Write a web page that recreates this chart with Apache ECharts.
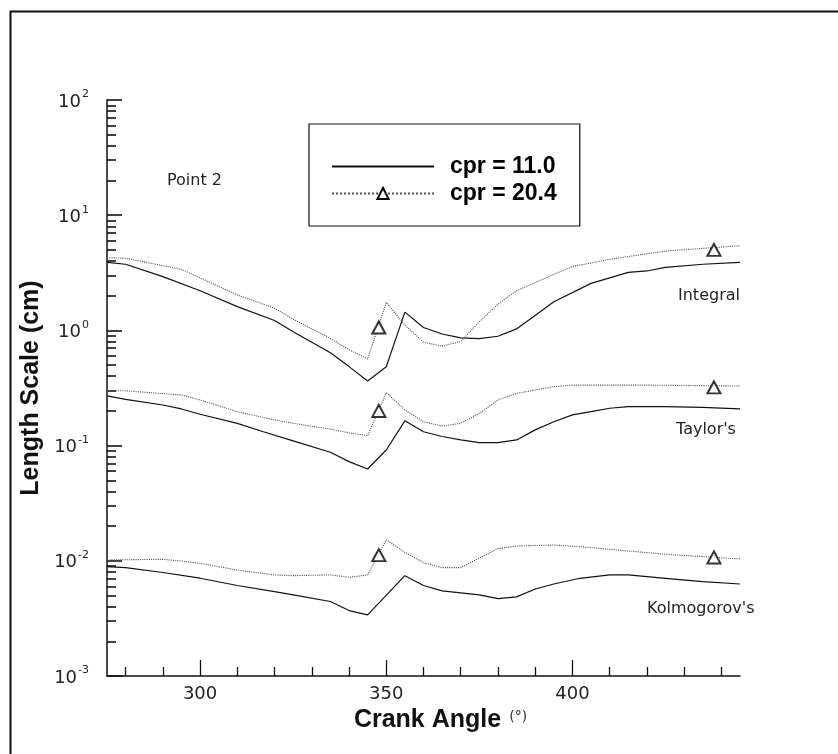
<!DOCTYPE html>
<html>
<head>
<meta charset="utf-8">
<script src="https://cdn.jsdelivr.net/npm/echarts@6/dist/echarts.min.js"></script>
<style>html,body{margin:0;padding:0;background:#fff}#c{width:838px;height:754px}</style>
</head>
<body>
<div id="c"></div>
<script>
// Integral length scale
const intAngle11 = [275,280,290,300,310,320,325,335,340,345,350,355,360,365,370,375,380,385,395,405,415,420,425,435,445];
const intVal11   = [3.90,3.75,2.93,2.21,1.61,1.22,0.975,0.64,0.485,0.364,0.484,1.44,1.06,0.93,0.86,0.85,0.89,1.03,1.77,2.56,3.19,3.28,3.53,3.75,3.90];
const intAngle20 = [275,280,295,310,320,325,335,340,345,350,355,360,365,370,375,380,385,390,395,400,410,425,445];
const intVal20   = [4.28,4.23,3.39,2.03,1.56,1.25,0.85,0.68,0.565,1.75,1.11,0.79,0.73,0.80,1.19,1.69,2.21,2.60,3.07,3.58,4.14,4.89,5.43];
// Taylor's length scale
const tayAngle11 = [275,280,290,295,300,310,317,325,335,340,345,350,355,360,365,370,375,380,385,390,395,400,405,410,415,425,435,445];
const tayVal11   = [0.270,0.252,0.225,0.208,0.187,0.156,0.132,0.110,0.0875,0.0726,0.0627,0.0916,0.164,0.132,0.120,0.112,0.106,0.106,0.112,0.137,0.161,0.185,0.197,0.211,0.218,0.218,0.215,0.208];
const tayAngle20 = [275,280,295,300,310,320,325,335,340,345,350,355,360,365,370,375,380,385,395,400,420,445];
const tayVal20   = [0.300,0.299,0.275,0.249,0.197,0.167,0.156,0.139,0.129,0.122,0.288,0.204,0.161,0.148,0.156,0.190,0.249,0.284,0.325,0.335,0.335,0.329];
// Kolmogorov's length scale
const kolAngle11 = [275,280,290,300,310,320,325,335,340,345,355,360,365,375,380,385,390,395,402,410,415,425,435,445];
const kolVal11   = [0.0089,0.00873,0.00791,0.00706,0.0061,0.00541,0.00506,0.00443,0.0037,0.00339,0.00743,0.0061,0.00548,0.00506,0.0047,0.00486,0.00569,0.00629,0.00705,0.00754,0.00754,0.00705,0.00659,0.00629];
const kolAngle20 = [275,290,295,300,310,320,325,335,340,345,350,355,360,365,370,380,385,395,402,415,425,435,445];
const kolVal20   = [0.01017,0.0103,0.00996,0.00951,0.00831,0.00754,0.00743,0.00754,0.00719,0.00754,0.01518,0.01186,0.00963,0.00873,0.00873,0.01277,0.01344,0.01371,0.01327,0.01217,0.0114,0.01087,0.01038];
// Triangle symbols drawn on cpr = 20.4 curves
const markAngle = [348,438,348,438,348,438];
const markVal   = [1.06,5.0,0.20,0.32,0.0112,0.0107];
// Axis ticks
const xLabelTicks = [300,350,400];
const xMinorTicks = [280,290,310,320,330,340,360,370,380,390,410,420,430,440];
const yMinorTicks = [];
[0.001,0.01,0.1,1,10].forEach(d => { for (let k = 2; k <= 9; k++) yMinorTicks.push(+(d*k).toPrecision(3)); });

const pairs = (xs, ys) => xs.map((x, i) => [x, ys[i]]);
const NAME11 = 'cpr = 11.0', NAME20 = 'cpr = 20.4';
const solid = {color:'#111', width:1.2, type:'solid'};
const dotted = {color:'#555', width:1.1, type:'dotted'};

function line11(xs, ys){ return {name:NAME11, type:'line', data:pairs(xs,ys), symbol:'none', lineStyle:solid, itemStyle:{color:'#111'}, silent:true, z:3}; }
function line20(xs, ys){ return {name:NAME20, type:'line', data:pairs(xs,ys), symbol:'emptyTriangle', symbolSize:[13,12], showSymbol:false, lineStyle:dotted, itemStyle:{color:'#000', borderColor:'#000', borderWidth:1.4}, silent:true, z:3}; }

const chart = echarts.init(document.getElementById('c'), null, {renderer:'canvas'});
chart.setOption({
  animation:false,
  backgroundColor:'#fff',
  grid:{left:107, top:100, right:98, bottom:78, containLabel:false},
  xAxis:[
    {type:'value', min:275, max:445, position:'bottom',
     axisLine:{show:true, onZero:false, lineStyle:{color:'#111', width:1.5}},
     axisTick:{show:true, inside:true, length:16, customValues:xLabelTicks, lineStyle:{color:'#111', width:1.3}},
     axisLabel:{show:true, customValues:xLabelTicks, margin:9, fontFamily:'DejaVu Sans', fontSize:18, color:'#222'},
     splitLine:{show:false},
     name:'{b|Crank Angle}{u|(°)}', nameLocation:'middle', nameGap:30,
     nameTextStyle:{rich:{
       b:{fontFamily:'Liberation Sans', fontWeight:'bold', fontSize:25, color:'#111', padding:[0,0,0,34]},
       u:{fontFamily:'DejaVu Sans', fontSize:14, color:'#333', padding:[0,0,6,8]}
     }}},
    {type:'value', min:275, max:445, position:'bottom',
     axisLine:{show:false},
     axisTick:{show:true, inside:true, length:9, customValues:xMinorTicks, lineStyle:{color:'#111', width:1.3}},
     axisLabel:{show:false}, splitLine:{show:false}}
  ],
  yAxis:[
    {type:'log', logBase:10, min:0.001, max:100, position:'left',
     axisLine:{show:true, onZero:false, lineStyle:{color:'#111', width:1.5}},
     axisTick:{show:true, inside:true, length:15, lineStyle:{color:'#111', width:1.6}},
     axisLabel:{show:true, margin:18,
       formatter: v => '{b|10}{s|' + Math.round(Math.log10(v)) + '}',
       rich:{
         b:{fontFamily:'DejaVu Sans', fontSize:18, color:'#222', lineHeight:22, verticalAlign:'bottom'},
         s:{fontFamily:'DejaVu Sans', fontSize:11, color:'#222', verticalAlign:'top', lineHeight:22, padding:[0,0,0,1]}
       }},
     splitLine:{show:false},
     name:'Length Scale (cm)', nameLocation:'middle', nameGap:57, nameRotate:90,
     nameTextStyle:{fontFamily:'Liberation Sans', fontWeight:'bold', fontSize:25, color:'#111'}},
    {type:'log', logBase:10, min:0.001, max:100, position:'left',
     axisLine:{show:false},
     axisTick:{show:true, inside:true, length:9, customValues:yMinorTicks, lineStyle:{color:'#111', width:1.6}},
     axisLabel:{show:false}, splitLine:{show:false}}
  ],
  legend:{
    data:[{name:NAME11, itemStyle:{opacity:0}}, NAME20], orient:'vertical', left:309, top:124,
    padding:[31,23,21,22], itemWidth:102, itemHeight:14, itemGap:4,
    backgroundColor:'#fff', borderColor:'#111', borderWidth:1.2, borderRadius:0,
    selectedMode:false,
    textStyle:{fontFamily:'Liberation Sans', fontWeight:'bold', fontSize:23, color:'#000', lineHeight:22, padding:[0,0,0,11]}
  },
  series:[
    line11(intAngle11, intVal11), line20(intAngle20, intVal20),
    line11(tayAngle11, tayVal11), line20(tayAngle20, tayVal20),
    line11(kolAngle11, kolVal11), line20(kolAngle20, kolVal20),
    {name:'markers', type:'scatter', data:pairs(markAngle, markVal), symbol:'emptyTriangle', symbolSize:[13,12],
     itemStyle:{color:'#000', borderColor:'#000', borderWidth:1.4}, silent:true, z:4}
  ],
  graphic:[
    {type:'rect', left:8, top:9, shape:{width:900, height:900}, style:{fill:'none', stroke:'#111', lineWidth:2}, silent:true, z:-1},
    {type:'text', left:167, top:173, style:{text:'Point 2', fontFamily:'DejaVu Sans', fontSize:16, fill:'#222'}},
    {type:'text', left:678, top:288, style:{text:'Integral', fontFamily:'DejaVu Sans', fontSize:16, fill:'#222'}},
    {type:'text', left:676, top:422, style:{text:"Taylor's", fontFamily:'DejaVu Sans', fontSize:16, fill:'#222'}},
    {type:'text', left:647, top:601, style:{text:"Kolmogorov's", fontFamily:'DejaVu Sans', fontSize:16, fill:'#222'}}
  ]
});
</script>
</body>
</html>
